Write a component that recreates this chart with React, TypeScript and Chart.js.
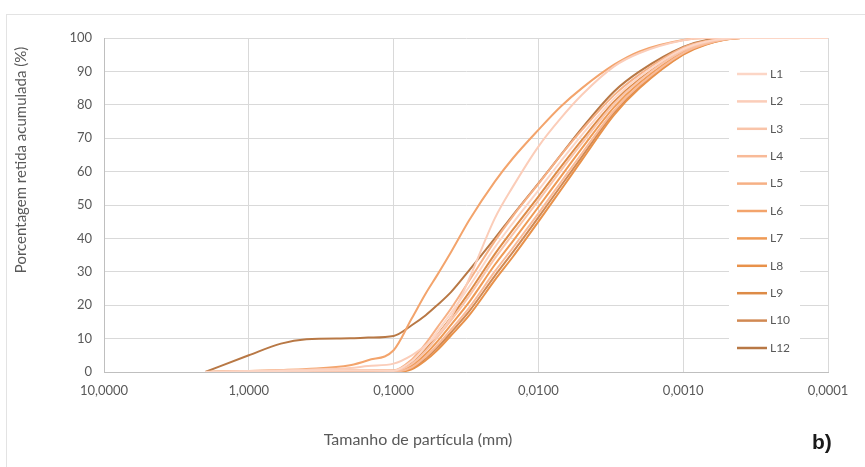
import React, { useEffect, useRef } from 'react';
import { Chart, registerables } from 'chart.js';

Chart.register(...registerables);

// Particle size (mm)
const sizes = [2, 1, 0.6, 0.4, 0.2, 0.15, 0.1, 0.075, 0.06, 0.05, 0.04, 0.03, 0.02, 0.015, 0.01, 0.007, 0.005, 0.003, 0.002, 0.001, 0.0007, 0.0004, 0.0001];

// Cumulative retained percentage per sample
const L1 = [0, 0.2, 0.3, 0.4, 0.5, 0.5, 0.4, 3.2, 7.6, 12.1, 17.8, 25.6, 37.3, 44.6, 54.4, 63.1, 71, 81.9, 88.4, 96.7, 98.9, 100, 100];
const L2 = [0, 0.3, 0.5, 0.7, 1.2, 1.8, 2.5, 5, 8, 11, 16.5, 28, 46, 55.5, 67.5, 76, 83, 91.5, 95.5, 99.3, 100, 100, 100];
const L3 = [0, 0.2, 0.3, 0.3, 0.4, 0.4, 0.3, 2.4, 6.3, 10.3, 15.5, 22.8, 34, 41.3, 51.3, 60.3, 68.5, 80.3, 87.3, 96.2, 98.6, 100, 100];
const L4 = [0, 0.1, 0.2, 0.2, 0.2, 0.2, 0.1, 1.4, 4.6, 8, 12.8, 19.3, 30.1, 37.2, 47.5, 56.8, 65.5, 78.3, 85.9, 95.5, 98.2, 100, 100];
const L5 = [0, 0.2, 0.4, 0.5, 0.6, 0.6, 0.5, 3.7, 8.5, 13.3, 19.1, 27.4, 39.2, 46.7, 56.3, 64.9, 72.5, 82.9, 89.1, 97.1, 99.1, 100, 100];
const L6 = [0, 0.3, 0.6, 0.9, 2, 3.5, 6.5, 16, 23.5, 29, 36, 45.5, 57, 64, 72.5, 79.5, 85, 92, 96, 99.4, 100, 100, 100];
const L7 = [0, 0.1, 0.2, 0.3, 0.3, 0.3, 0.2, 1.9, 5.4, 9.1, 14.2, 21, 32.1, 39.2, 49.4, 58.5, 67, 79.3, 86.6, 95.8, 98.4, 100, 100];
const L8 = [0, 0, 0, 0.1, 0.1, 0.1, 0, 0.8, 3.5, 6.5, 11, 17, 27.5, 34.5, 45, 54.5, 63.5, 77, 85, 95, 98, 100, 100];
const L9 = [0, 0.2, 0.3, 0.3, 0.4, 0.4, 0.3, 2.7, 6.8, 11, 16.4, 23.9, 35.3, 42.6, 52.5, 61.4, 69.5, 80.9, 87.7, 96.4, 98.7, 100, 100];
const L10 = [0, 0.1, 0.1, 0.1, 0.1, 0.1, 0.1, 1.1, 4.1, 7.3, 11.9, 18.2, 28.8, 35.9, 46.3, 55.7, 64.5, 77.7, 85.5, 95.2, 98.1, 100, 100];
const L12 = [0, 5, 8.5, 9.8, 10.1, 10.3, 10.8, 14, 17, 20, 24, 30.5, 40, 47, 56.5, 65, 73, 84, 90, 97.3, 99.3, 100, 100];

const seriesNames = ['L1', 'L2', 'L3', 'L4', 'L5', 'L6', 'L7', 'L8', 'L9', 'L10', 'L12'];
const seriesValues = [L1, L2, L3, L4, L5, L6, L7, L8, L9, L10, L12];
const seriesColors = ['#FCD6C6', '#FBCDB9', '#F9C4A9', '#F8BA98', '#F6B085', '#F3A46C', '#EF9A55', '#E8914A', '#DD8B47', '#D18953', '#B87845'];

const xTickValues = [10, 1, 0.1, 0.01, 0.001, 0.0001];
const xTickLabels = ['10,0000', '1,0000', '0,1000', '0,0100', '0,0010', '0,0001'];

const xTitle = 'Tamanho de partícula (mm)';
const yTitle = 'Porcentagem retida acumulada (%)';

const FONT = 'Lato, "Open Sans", sans-serif';
const TEXT = '#595959';

export default function App() {
  const ref = useRef<HTMLCanvasElement>(null);

  useEffect(() => {
    const canvas = ref.current;
    if (!canvas) return;

    const legendPlugin = {
      id: 'boxLegend',
      beforeDatasetsDraw(chart: any) {
        const { ctx, chartArea } = chart;
        const boxLeft = chartArea.right - 99;
        const boxTop = chartArea.top + 23;
        ctx.save();
        ctx.fillStyle = '#ffffff';
        ctx.fillRect(boxLeft, boxTop, 71, 298);
        chart.data.datasets.forEach((ds: any, i: number) => {
          const y = boxTop + 13 + i * 27.4;
          ctx.strokeStyle = ds.borderColor;
          ctx.lineWidth = 2.5;
          ctx.beginPath();
          ctx.moveTo(boxLeft + 8, y);
          ctx.lineTo(boxLeft + 38, y);
          ctx.stroke();
          ctx.fillStyle = TEXT;
          ctx.font = '12px ' + FONT;
          ctx.textBaseline = 'middle';
          ctx.textAlign = 'left';
          ctx.fillText(ds.label, boxLeft + 41, y);
        });
        ctx.restore();
      },
    };

    const titlesPlugin = {
      id: 'axisTitles',
      afterDraw(chart: any) {
        const { ctx } = chart;
        ctx.save();
        ctx.fillStyle = TEXT;
        ctx.textAlign = 'center';
        ctx.textBaseline = 'middle';
        ctx.font = '16px ' + FONT;
        ctx.fillText(xTitle, 418, 440);
        ctx.font = '15px ' + FONT;
        ctx.translate(21, 160);
        ctx.rotate(-Math.PI / 2);
        ctx.fillText(yTitle, 0, 0);
        ctx.restore();
      },
    };

    const chart = new Chart(canvas, {
      type: 'line',
      data: {
        datasets: seriesNames.map((name, i) => ({
          label: name,
          data: sizes.map((s, j) => ({ x: s, y: seriesValues[i][j] })),
          borderColor: seriesColors[i],
          backgroundColor: seriesColors[i],
          borderWidth: 2,
          pointRadius: 0,
          fill: false,
          cubicInterpolationMode: 'monotone' as const,
        })),
      },
      options: {
        animation: false,
        responsive: false,
        layout: { padding: { left: 0, top: 38, right: 37, bottom: 0 } },
        plugins: { legend: { display: false }, tooltip: { enabled: false } },
        scales: {
          x: {
            type: 'logarithmic',
            reverse: true,
            min: 0.0001,
            max: 10,
            afterBuildTicks: (s: any) => {
              s.ticks = xTickValues.map((v) => ({ value: v }));
            },
            afterFit: (s: any) => {
              s.height = 95;
            },
            ticks: {
              autoSkip: false,
              maxRotation: 0,
              padding: 11,
              color: TEXT,
              font: { family: FONT, size: 13 },
              callback: (_v: any, i: number) => xTickLabels[i],
            },
            grid: { color: '#d9d9d9', drawTicks: false, lineWidth: 1 },
            border: { display: true, color: '#bfbfbf' },
          },
          y: {
            min: 0,
            max: 100,
            afterFit: (s: any) => {
              s.width = 104;
            },
            ticks: {
              stepSize: 10,
              padding: 12,
              color: TEXT,
              font: { family: FONT, size: 13 },
            },
            grid: { color: '#d9d9d9', drawTicks: false, lineWidth: 1 },
            border: { display: true, color: '#bfbfbf' },
          },
        },
      },
      plugins: [legendPlugin, titlesPlugin],
    } as any);

    return () => chart.destroy();
  }, []);

  return (
    <div style={{ position: 'fixed', left: 0, top: 0, width: 865, height: 467, overflow: 'hidden', background: '#fff' }}>
      <div style={{ position: 'absolute', left: 6, top: 14, width: 900, height: 500, borderTop: '1px solid #e3e3e3', borderLeft: '1px solid #e3e3e3' }} />
      <canvas ref={ref} width={865} height={467} style={{ position: 'absolute', left: 0, top: 0 }} />
      <div style={{ position: 'absolute', left: 812, top: 430, fontFamily: '"Liberation Sans", Arial, sans-serif', fontWeight: 'bold', fontSize: 21, color: '#1a1a1a' }}>b)</div>
    </div>
  );
}
